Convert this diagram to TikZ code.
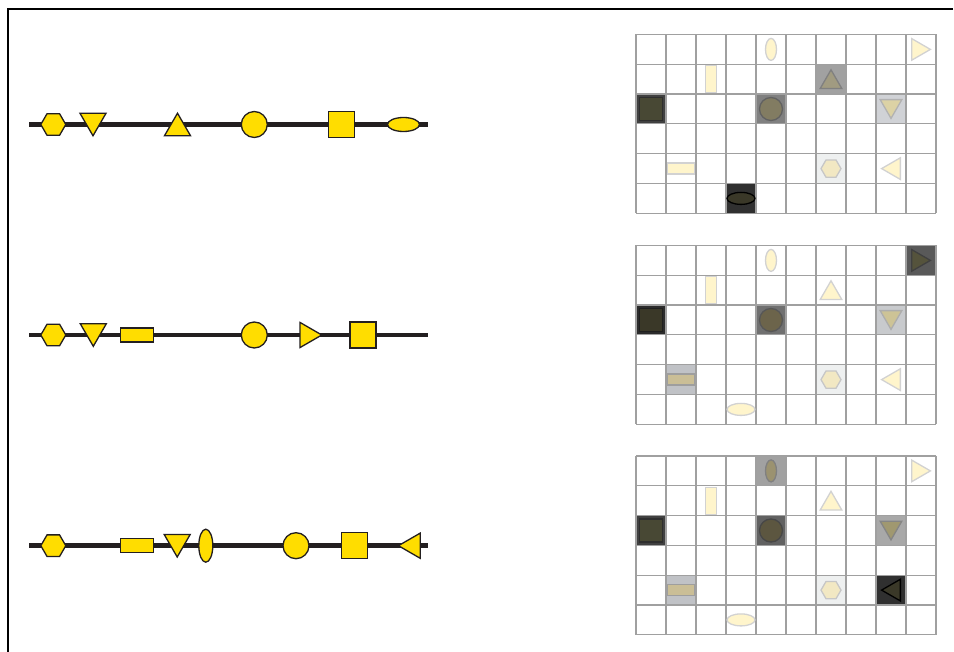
\documentclass[tikz,border=0pt]{standalone}
\usetikzlibrary{shapes.geometric}
\definecolor{yel}{RGB}{255,221,0}
\definecolor{dk}{RGB}{35,31,32}
\definecolor{gridc}{RGB}{160,160,160}
\definecolor{bgA}{RGB}{208,210,214}
\definecolor{bgB}{RGB}{238,240,240}
\definecolor{bgC}{RGB}{192,194,198}
\definecolor{bgD}{RGB}{200,202,205}
\definecolor{pale}{RGB}{255,245,204}
\definecolor{paleb}{RGB}{210,210,210}
\definecolor{fA}{RGB}{161,155,129}
\definecolor{fB}{RGB}{72,72,52}
\definecolor{fC}{RGB}{130,124,98}
\definecolor{fD}{RGB}{220,210,165}
\definecolor{fE}{RGB}{242,232,195}
\definecolor{fF}{RGB}{58,56,40}
\definecolor{fG}{RGB}{85,83,60}
\definecolor{fH}{RGB}{108,100,75}
\definecolor{fI}{RGB}{205,195,150}
\definecolor{fJ}{RGB}{202,190,150}
\definecolor{fK}{RGB}{155,146,112}
\definecolor{fL}{RGB}{92,86,64}
\definecolor{fM}{RGB}{160,152,112}
\begin{document}
\begin{tikzpicture}[x=1pt,y=-1pt,
  track/.style={line width=4.5pt,draw=dk},
  ys/.style={fill=yel,draw=dk,line width=1.3pt,inner sep=0pt,outer sep=0pt},
  hexa/.style={ys,regular polygon,regular polygon sides=6,minimum size=25pt},
  tria/.style={ys,regular polygon,regular polygon sides=3,minimum size=30pt},
  circa/.style={ys,circle,minimum size=26pt},
  sqa/.style={ys,rectangle,minimum width=26pt,minimum height=26pt},
  ella/.style={ys,ellipse,minimum width=32pt,minimum height=14pt},
  vella/.style={ys,ellipse,minimum width=14pt,minimum height=33pt},
  rcta/.style={ys,rectangle,minimum width=33pt,minimum height=14pt},
  gline/.style={draw=gridc,line width=1.2pt},
  gs/.style={fill=pale,draw=paleb,line width=1.3pt,inner sep=0pt,outer sep=0pt},
  hexg/.style={gs,regular polygon,regular polygon sides=6,minimum size=20pt},
  trig/.style={gs,regular polygon,regular polygon sides=3,minimum size=25pt},
  circg/.style={gs,circle,minimum size=23pt},
  sqg/.style={gs,rectangle,minimum width=23pt,minimum height=23pt},
  hellg/.style={gs,ellipse,minimum width=28pt,minimum height=12pt},
  vellg/.style={gs,ellipse,minimum width=11pt,minimum height=22pt},
  hrctg/.style={gs,rectangle,minimum width=27pt,minimum height=11pt},
  vrctg/.style={gs,rectangle,minimum width=11pt,minimum height=27pt}
]
\useasboundingbox (0,0) rectangle (954,652);
\fill[white] (0,0) rectangle (954,652);
% frame
\coordinate (fr1) at (953,9);
\coordinate (fr2) at (8,9);
\coordinate (fr3) at (8,653);
\draw[line width=2pt,black] (fr1) -- (fr2) -- (fr3);

% ---------- line 1 ----------
\coordinate (a1) at (29,124.5);
\coordinate (b1) at (428,124.5);
\draw[track] (a1) -- (b1);
\node[hexa] (h1) at (53.3,124.5) {};
\node[tria,shape border rotate=180] (d1) at (93,120.8) {};
\node[tria] (u1) at (177.5,128.2) {};
\node[circa] (c1) at (254.3,124.5) {};
\node[sqa] (s1) at (341.3,124.5) {};
\node[ella] (e1) at (403.5,124.5) {};

% ---------- line 2 ----------
\coordinate (a2) at (29,335);
\coordinate (b2) at (428,335);
\draw[track] (a2) -- (b2);
\node[hexa] (h2) at (53.3,335) {};
\node[tria,shape border rotate=180] (d2) at (93.3,331.3) {};
\node[rcta] (r2) at (137.3,335) {};
\node[circa] (c2) at (254.3,335) {};
\node[tria,minimum size=29pt,shape border rotate=-90] (t2) at (307.3,335) {};
\node[sqa] (s2) at (363,335) {};

% ---------- line 3 ----------
\coordinate (a3) at (29,545.7);
\coordinate (b3) at (428,545.7);
\draw[track] (a3) -- (b3);
\node[hexa] (h3) at (53.3,545.7) {};
\node[rcta] (r3) at (137.3,545.7) {};
\node[tria,shape border rotate=180] (d3) at (177.2,542) {};
\node[vella] (v3) at (205.8,545.7) {};
\node[circa] (c3) at (296,545.7) {};
\node[sqa] (s3) at (354.7,545.7) {};
\node[tria,minimum size=29pt,shape border rotate=90] (t3) at (412.9,545.7) {};

% ---------- grid 1 ----------
\begin{scope}[shift={(636,34.5)}]
\fill[black!37] (180,29.8) rectangle ++(30,29.8);
\fill[black!75] (0,59.6) rectangle ++(30,29.8);
\fill[black!50] (120,59.6) rectangle ++(30,29.8);
\fill[bgA] (240,59.6) rectangle ++(30,29.8);
\fill[bgB] (180,119.2) rectangle ++(30,29.8);
\fill[black!81] (90,149) rectangle ++(30,29.8);
\foreach \i in {0,...,10} \draw[gline] (\i*30,0) -- (\i*30,178.8);
\foreach \j in {0,...,6} \draw[gline] (0,\j*29.8) -- (300,\j*29.8);
\node[vellg] (g1a) at (135,14.9) {};
\node[trig,shape border rotate=-90] (g1b) at (281.9,14.9) {};
\node[vrctg] (g1c) at (75,44.7) {};
\node[trig,fill=fA,draw=black!50] (g1d) at (195,47.8) {};
\node[sqg,fill=fB,draw=black!82] (g1e) at (15,74.5) {};
\node[circg,fill=fC,draw=black!62] (g1f) at (135,74.5) {};
\node[trig,shape border rotate=180,fill=fD,draw=black!30] (g1g) at (255,71.4) {};
\node[hrctg] (g1h) at (45,134.1) {};
\node[hexg,fill=fE,draw=black!22] (g1i) at (195,134.1) {};
\node[trig,shape border rotate=90] (g1j) at (258.1,134.1) {};
\node[hellg,fill=fF,draw=black] (g1k) at (105,163.9) {};
\end{scope}

% ---------- grid 2 ----------
\begin{scope}[shift={(636,245.5)}]
\fill[black!65] (270,0) rectangle ++(30,29.8);
\fill[black!83] (0,59.6) rectangle ++(30,29.8);
\fill[black!56] (120,59.6) rectangle ++(30,29.8);
\fill[bgD] (240,59.6) rectangle ++(30,29.8);
\fill[bgC] (30,119.2) rectangle ++(30,29.8);
\fill[bgB] (180,119.2) rectangle ++(30,29.8);
\foreach \i in {0,...,10} \draw[gline] (\i*30,0) -- (\i*30,178.8);
\foreach \j in {0,...,6} \draw[gline] (0,\j*29.8) -- (300,\j*29.8);
\node[vellg] (g2a) at (135,14.9) {};
\node[trig,shape border rotate=-90,fill=fG,draw=black!75] (g2b) at (281.9,14.9) {};
\node[vrctg] (g2c) at (75,44.7) {};
\node[trig] (g2d) at (195,47.8) {};
\node[sqg,fill=fF,draw=black!88] (g2e) at (15,74.5) {};
\node[circg,fill=fH,draw=black!66] (g2f) at (135,74.5) {};
\node[trig,shape border rotate=180,fill=fI,draw=black!32] (g2g) at (255,71.4) {};
\node[hrctg,fill=fJ,draw=black!38] (g2h) at (45,134.1) {};
\node[hexg,fill=fE,draw=black!22] (g2i) at (195,134.1) {};
\node[trig,shape border rotate=90] (g2j) at (258.1,134.1) {};
\node[hellg] (g2k) at (105,163.9) {};
\end{scope}

% ---------- grid 3 ----------
\begin{scope}[shift={(636,456)}]
\fill[black!37] (120,0) rectangle ++(30,29.8);
\fill[black!75] (0,59.6) rectangle ++(30,29.8);
\fill[black!62] (120,59.6) rectangle ++(30,29.8);
\fill[black!34] (240,59.6) rectangle ++(30,29.8);
\fill[bgC] (30,119.2) rectangle ++(30,29.8);
\fill[bgB] (180,119.2) rectangle ++(30,29.8);
\fill[black!81] (240,119.2) rectangle ++(30,29.8);
\foreach \i in {0,...,10} \draw[gline] (\i*30,0) -- (\i*30,178.8);
\foreach \j in {0,...,6} \draw[gline] (0,\j*29.8) -- (300,\j*29.8);
\node[vellg,fill=fK,draw=black!50] (g3a) at (135,14.9) {};
\node[trig,shape border rotate=-90] (g3b) at (281.9,14.9) {};
\node[vrctg] (g3c) at (75,44.7) {};
\node[trig] (g3d) at (195,47.8) {};
\node[sqg,fill=fB,draw=black!82] (g3e) at (15,74.5) {};
\node[circg,fill=fL,draw=black!72] (g3f) at (135,74.5) {};
\node[trig,shape border rotate=180,fill=fM,draw=black!48] (g3g) at (255,71.4) {};
\node[hrctg,fill=fJ,draw=black!38] (g3h) at (45,134.1) {};
\node[hexg,fill=fE,draw=black!22] (g3i) at (195,134.1) {};
\node[trig,shape border rotate=90,fill=fF,draw=black] (g3j) at (258.1,134.1) {};
\node[hellg] (g3k) at (105,163.9) {};
\end{scope}
\end{tikzpicture}
\end{document}
